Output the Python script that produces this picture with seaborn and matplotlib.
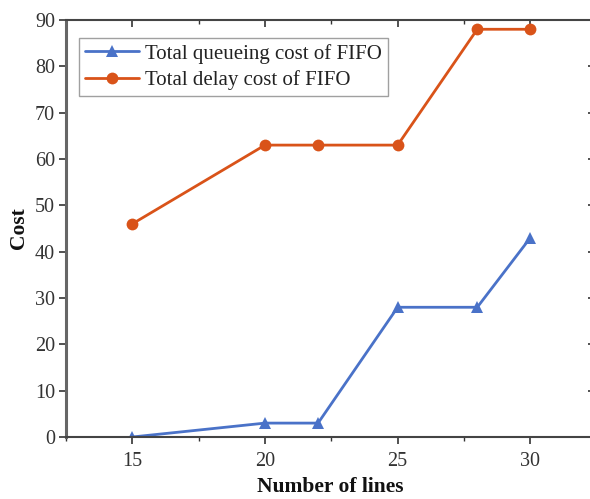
import matplotlib
matplotlib.use("Agg")
import matplotlib.pyplot as plt
import seaborn as sns
import pandas as pd
from matplotlib.ticker import MultipleLocator

lines_x = [15, 20, 22, 25, 28, 30]
queue_cost = [0, 3, 3, 28, 28, 43]
delay_cost = [46, 63, 63, 63, 88, 88]
series_names = ["Total queueing cost of FIFO", "Total delay cost of FIFO"]

df = pd.concat([
    pd.DataFrame({"x": lines_x, "y": queue_cost, "series": series_names[0]}),
    pd.DataFrame({"x": lines_x, "y": delay_cost, "series": series_names[1]}),
])

sns.set_style("ticks")
plt.rcParams['font.family'] = ['Liberation Serif', 'DejaVu Serif']
plt.rcParams['text.color'] = '#222222'
plt.rcParams['axes.labelcolor'] = '#111111'
plt.rcParams['xtick.color'] = '#333333'
plt.rcParams['ytick.color'] = '#333333'

fig = plt.figure(figsize=(5.9, 4.99), dpi=100)
ax = fig.add_axes([66/590, (499-437)/499, (594-66)/590, (437-20)/499])

palette = {series_names[0]: "#4A72C8", series_names[1]: "#D95319"}
markers = {series_names[0]: "^", series_names[1]: "o"}
sns.lineplot(data=df, x="x", y="y", hue="series", style="series",
             palette=palette, markers=markers, dashes=False,
             markersize=8.5, linewidth=2, markeredgewidth=0, ax=ax)

ax.set_xlim(12.5, 32.4)
ax.set_ylim(0, 90)
ax.xaxis.set_major_locator(MultipleLocator(5))
ax.xaxis.set_minor_locator(MultipleLocator(2.5))
ax.yaxis.set_major_locator(MultipleLocator(10))
ax.tick_params(axis='both', which='major', labelsize=14.5, direction='out', length=5, width=1.2)
ax.tick_params(axis='x', which='major', pad=6)
ax.tick_params(axis='y', which='major', pad=3)
ax.tick_params(axis='x', which='minor', direction='out', length=3, width=1.0)
for s in ax.spines.values():
    s.set_visible(True)
    s.set_linewidth(1.5)
    s.set_color('#444444')
ax.spines['right'].set_visible(False)
ax.spines['left'].set_linewidth(2.2)
ax.spines['left'].set_color('#666666')

# mirrored inward ticks on top and right
top = ax.secondary_xaxis('top')
top.xaxis.set_major_locator(MultipleLocator(5))
top.xaxis.set_minor_locator(MultipleLocator(2.5))
top.tick_params(which='major', direction='in', length=5, width=1.2, labeltop=False)
top.tick_params(which='minor', direction='in', length=3, width=1.0)
top.spines['top'].set_visible(False)
right = ax.secondary_yaxis('right')
right.yaxis.set_major_locator(MultipleLocator(10))
right.tick_params(which='major', direction='in', length=4, width=1.2, labelright=False)
right.spines['right'].set_visible(False)

ax.set_xlabel("Number of lines", fontsize=15.5, fontweight='bold', labelpad=4)
ax.set_ylabel("Cost", fontsize=15.5, fontweight='bold', labelpad=4)

handles, labels = ax.get_legend_handles_labels()
leg = ax.legend(handles, labels, loc='upper left', bbox_to_anchor=(0.024, 0.958),
                borderaxespad=0, fontsize=15, frameon=True, fancybox=False,
                edgecolor='#888888', borderpad=0.3, handlelength=2.6,
                handletextpad=0.3, labelspacing=0.3)
leg.get_frame().set_linewidth(1.0)

fig.savefig("out.png", dpi=100)
